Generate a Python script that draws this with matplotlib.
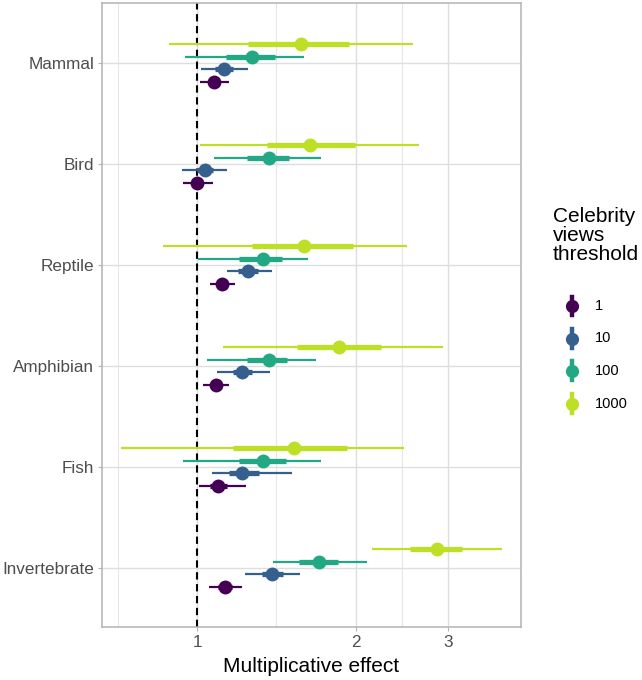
import numpy as np
import matplotlib
matplotlib.use("Agg")
import matplotlib.pyplot as plt
from matplotlib.lines import Line2D
from matplotlib.ticker import FixedLocator, NullFormatter

plt.rcParams["font.family"] = ["Liberation Sans", "DejaVu Sans"]

taxa = ["Mammal", "Bird", "Reptile", "Amphibian", "Fish", "Invertebrate"]
thresholds = ["1", "10", "100", "1000"]

# point estimate, 66% and 95% intervals (multiplicative effect), per threshold
est = {
    "1":    [1.076, 1.000, 1.116, 1.084, 1.096, 1.129],
    "10":   [1.124, 1.034, 1.250, 1.218, 1.216, 1.385],
    "100":  [1.269, 1.368, 1.331, 1.370, 1.335, 1.703],
    "1000": [1.574, 1.638, 1.597, 1.862, 1.528, 2.851],
}
lo66 = {
    "1":    [1.049, 0.976, 1.089, 1.057, 1.057, 1.096],
    "10":   [1.080, 0.997, 1.197, 1.171, 1.150, 1.326],
    "100":  [1.134, 1.245, 1.202, 1.241, 1.202, 1.561],
    "1000": [1.250, 1.355, 1.269, 1.545, 1.168, 2.537],
}
hi66 = {
    "1":    [1.104, 1.027, 1.145, 1.113, 1.137, 1.162],
    "10":   [1.171, 1.073, 1.306, 1.269, 1.312, 1.457],
    "100":  [1.405, 1.494, 1.451, 1.483, 1.472, 1.853],
    "1000": [1.945, 1.997, 1.980, 2.234, 1.923, 3.180],
}
lo95 = {
    "1":    [1.012, 0.939, 1.057, 1.024, 1.009, 1.054],
    "10":   [1.016, 0.936, 1.137, 1.091, 1.068, 1.234],
    "100":  [0.948, 1.077, 1.004, 1.045, 0.941, 1.391],
    "1000": [0.884, 1.012, 0.860, 1.118, 0.715, 2.146],
}
hi95 = {
    "1":    [1.147, 1.070, 1.181, 1.147, 1.238, 1.214],
    "10":   [1.247, 1.137, 1.385, 1.375, 1.515, 1.568],
    "100":  [1.595, 1.716, 1.621, 1.679, 1.716, 2.099],
    "1000": [2.574, 2.640, 2.500, 2.930, 2.471, 3.790],
}

colors = [plt.cm.viridis(v) for v in [0.0, 0.3, 0.6, 0.9]]
dodge = [0.1875, 0.0625, -0.0625, -0.1875]

W, H = 642, 680
fig = plt.figure(figsize=(W / 100, H / 100), dpi=100)
ax = fig.add_axes([102 / W, 1 - 627 / H, (520.7 - 102) / W, 624 / H])

ax.set_xscale("log")
ax.set_xlim(0.659, 4.118)
ax.set_ylim(5.584, -0.594)

# grid
ax.xaxis.set_major_locator(FixedLocator([1, 2, 3]))
ax.xaxis.set_minor_locator(FixedLocator([1 / np.sqrt(2), np.sqrt(2), np.sqrt(6)]))
ax.xaxis.set_minor_formatter(NullFormatter())
ax.set_xticklabels(["1", "2", "3"])
ax.set_yticks(range(len(taxa)))
ax.set_yticklabels(taxa)
ax.grid(True, which="major", color="#DEDEDE", lw=1.0, zorder=0)
ax.grid(True, which="minor", axis="x", color="#E6E6E6", lw=0.8, zorder=0)
ax.set_axisbelow(True)
ax.tick_params(which="major", length=3, width=0.8, color="#B3B3B3",
               labelsize=12.3, labelcolor="#4D4D4D", pad=2.5)
ax.tick_params(which="minor", length=0)
for s in ax.spines.values():
    s.set_color("#B3B3B3")
    s.set_linewidth(1.1)

ax.axvline(1, color="black", lw=1.5, ls=(0, (3.5, 2.2)), zorder=1)

y0 = np.arange(len(taxa))
for th, c, dy in zip(thresholds, colors, dodge):
    y = y0 + dy
    ax.hlines(y, lo95[th], hi95[th], color=c, lw=1.6, zorder=2)
    ax.hlines(y, lo66[th], hi66[th], color=c, lw=3.8, zorder=3)
    ax.plot(est[th], y, "o", color=c, ms=10, mec="none", zorder=4)

ax.set_xlabel("Multiplicative effect", fontsize=15, labelpad=5)

# legend
fig.text(553 / W, 1 - 207 / H, "Celebrity\nviews\nthreshold", fontsize=15,
         va="top", ha="left", linespacing=1.0)
for i, (th, c) in enumerate(zip(thresholds, colors)):
    yc = 1 - (306 + i * 32.5) / H
    xc = 571.5 / W
    fig.add_artist(Line2D([xc, xc], [yc - 9.5 / H, yc + 9.5 / H], color=c, lw=3.2))
    fig.add_artist(Line2D([xc], [yc], marker="o", ms=9.5, color=c, mec="none"))
    fig.text(595 / W, yc, th, fontsize=10.5, va="center", ha="left")

fig.savefig("out.png", dpi=100)
